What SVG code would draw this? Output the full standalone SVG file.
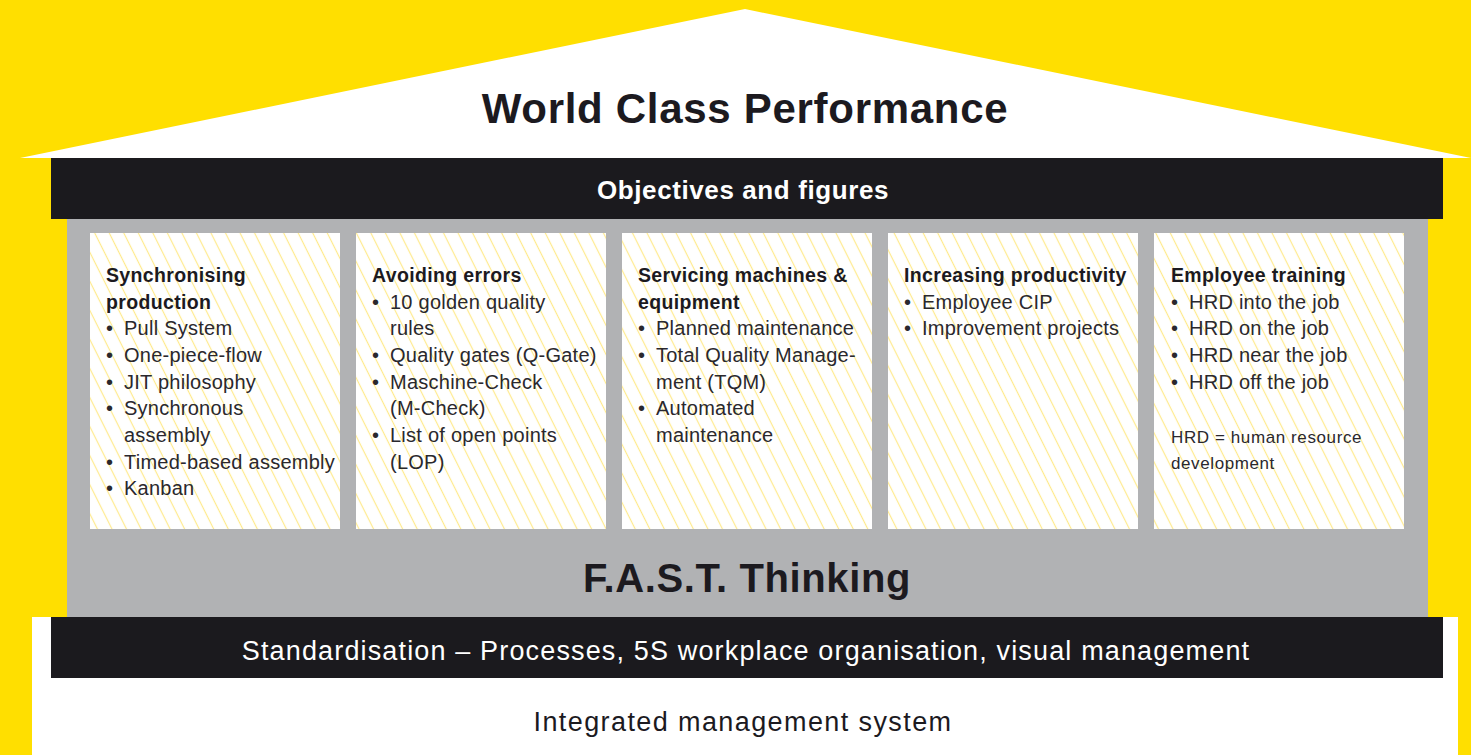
<svg xmlns="http://www.w3.org/2000/svg" width="1471" height="755" viewBox="0 0 1471 755">
  <defs>
    <pattern id="hatch" patternUnits="userSpaceOnUse" width="13" height="10" patternTransform="rotate(-26.57)">
      <line x1="6.5" y1="-1" x2="6.5" y2="11" stroke="#FFEA8C" stroke-width="1.2"/>
    </pattern>
    <style>
      .yellow { fill: #FFDF00; }
      .dark { fill: #1B1A1E; }
      .grey { fill: #B1B2B4; }
      .white { fill: #FFFFFF; }
      .box { fill: url(#hatch); }
      .boxbg { fill: #FFFFFF; }
      text { font-family: "Liberation Sans", Arial, sans-serif; fill: #1C1A1F; }
      .title { font-size: 42px; font-weight: bold; text-anchor: middle; letter-spacing: 0.7px; }
      .bar { font-size: 26px; font-weight: bold; fill: #FFFFFF; text-anchor: middle; letter-spacing: 0.6px; }
      .fast { font-size: 40px; font-weight: bold; text-anchor: middle; letter-spacing: 0.6px; }
      .std { font-size: 27px; fill: #FFFFFF; text-anchor: middle; letter-spacing: 1.15px; }
      .ims { font-size: 27px; text-anchor: middle; letter-spacing: 1.4px; }
      .h { font-size: 19.5px; font-weight: bold; letter-spacing: 0.35px; }
      .b { font-size: 20px; letter-spacing: 0.25px; fill: #2A282D; }
      .note { font-size: 17px; letter-spacing: 0.6px; fill: #2A282D; }
    </style>
  </defs>

  <rect class="yellow" x="0" y="0" width="1471" height="755"/>

  <g id="roof">
    <polygon class="white" points="20,158 745,9 1471,158"/>
    <text class="title" x="745" y="123">World Class Performance</text>
  </g>

  <g id="base">
    <rect class="white" x="32" y="617" width="1426" height="138"/>
    <text class="ims" x="743" y="731">Integrated management system</text>
  </g>

  <g id="fast-thinking">
    <rect class="grey" x="67" y="218" width="1361" height="400"/>
    <text class="fast" x="747" y="592">F.A.S.T. Thinking</text>
  </g>

  <g id="objectives">
    <rect class="dark" x="51" y="158" width="1392" height="61"/>
    <text class="bar" x="743" y="199">Objectives and figures</text>
  </g>

  <g id="standardisation">
    <rect class="dark" x="51" y="617" width="1392" height="61"/>
    <text class="std" x="746" y="660">Standardisation – Processes, 5S workplace organisation, visual management</text>
  </g>

  <g id="pillar-1">
    <rect class="boxbg" x="90" y="233" width="250" height="296"/>
    <rect class="box" x="90" y="233" width="250" height="296"/>
    <text class="h" x="106" y="282">Synchronising</text>
    <text class="h" x="106" y="308.7">production</text>
    <text class="b" x="106" y="335.3">•<tspan x="124">Pull System</tspan></text>
    <text class="b" x="106" y="362">•<tspan x="124">One-piece-flow</tspan></text>
    <text class="b" x="106" y="388.7">•<tspan x="124">JIT philosophy</tspan></text>
    <text class="b" x="106" y="415.3">•<tspan x="124">Synchronous</tspan></text>
    <text class="b" x="124" y="442">assembly</text>
    <text class="b" x="106" y="468.7">•<tspan x="124">Timed-based assembly</tspan></text>
    <text class="b" x="106" y="495.3">•<tspan x="124">Kanban</tspan></text>
  </g>

  <g id="pillar-2">
    <rect class="boxbg" x="356" y="233" width="250" height="296"/>
    <rect class="box" x="356" y="233" width="250" height="296"/>
    <text class="h" x="372" y="282">Avoiding errors</text>
    <text class="b" x="372" y="308.7">•<tspan x="390">10 golden quality</tspan></text>
    <text class="b" x="390" y="335.3">rules</text>
    <text class="b" x="372" y="362">•<tspan x="390">Quality gates (Q-Gate)</tspan></text>
    <text class="b" x="372" y="388.7">•<tspan x="390">Maschine-Check</tspan></text>
    <text class="b" x="390" y="415.3">(M-Check)</text>
    <text class="b" x="372" y="442">•<tspan x="390">List of open points</tspan></text>
    <text class="b" x="390" y="468.7">(LOP)</text>
  </g>

  <g id="pillar-3">
    <rect class="boxbg" x="622" y="233" width="250" height="296"/>
    <rect class="box" x="622" y="233" width="250" height="296"/>
    <text class="h" x="638" y="282">Servicing machines &amp;</text>
    <text class="h" x="638" y="308.7">equipment</text>
    <text class="b" x="638" y="335.3">•<tspan x="656">Planned maintenance</tspan></text>
    <text class="b" x="638" y="362">•<tspan x="656">Total Quality Manage-</tspan></text>
    <text class="b" x="656" y="388.7">ment (TQM)</text>
    <text class="b" x="638" y="415.3">•<tspan x="656">Automated</tspan></text>
    <text class="b" x="656" y="442">maintenance</text>
  </g>

  <g id="pillar-4">
    <rect class="boxbg" x="888" y="233" width="250" height="296"/>
    <rect class="box" x="888" y="233" width="250" height="296"/>
    <text class="h" x="904" y="282">Increasing productivity</text>
    <text class="b" x="904" y="308.7">•<tspan x="922">Employee CIP</tspan></text>
    <text class="b" x="904" y="335.3">•<tspan x="922">Improvement projects</tspan></text>
  </g>

  <g id="pillar-5">
    <rect class="boxbg" x="1154" y="233" width="250" height="296"/>
    <rect class="box" x="1154" y="233" width="250" height="296"/>
    <text class="h" x="1171" y="282">Employee training</text>
    <text class="b" x="1171" y="308.7">•<tspan x="1189">HRD into the job</tspan></text>
    <text class="b" x="1171" y="335.3">•<tspan x="1189">HRD on the job</tspan></text>
    <text class="b" x="1171" y="362">•<tspan x="1189">HRD near the job</tspan></text>
    <text class="b" x="1171" y="388.7">•<tspan x="1189">HRD off the job</tspan></text>
    <text class="note" x="1171" y="443">HRD = human resource</text>
    <text class="note" x="1171" y="469">development</text>
  </g>

  <g id="connectors"/>
</svg>
